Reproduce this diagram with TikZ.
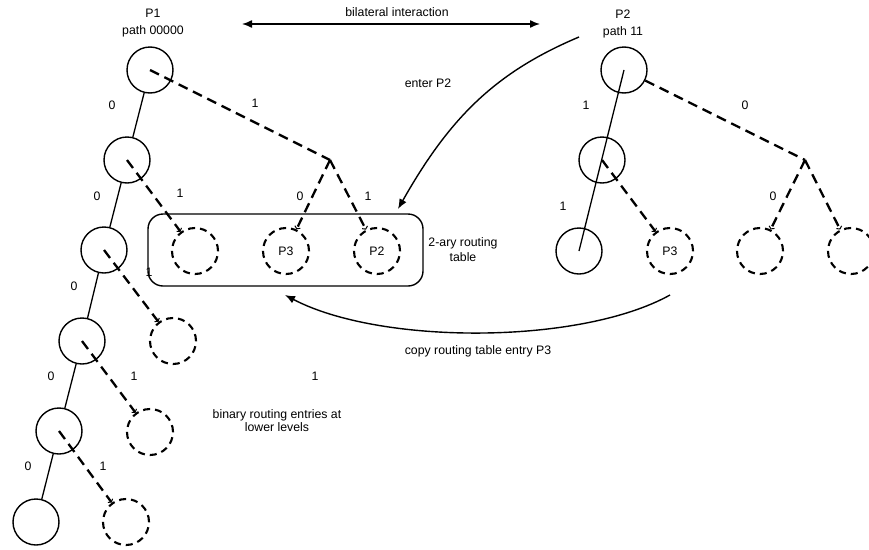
\documentclass[tikz,border=0pt]{standalone}
\usepackage{fontspec}
\setmainfont{Liberation Sans}
\usetikzlibrary{arrows.meta}
\begin{document}
\begin{tikzpicture}[x=1pt,y=-1pt,
  every node/.style={font=\fontsize{12.3}{14}\selectfont, inner sep=0pt},
  solidnode/.style={circle, draw, line width=1.4pt, minimum size=46pt},
  dashnode/.style={circle, draw, line width=2.1pt, dash pattern=on 7pt off 5pt, minimum size=46pt},
  treeline/.style={line width=1.3pt},
  link/.style={line width=2.3pt, dash pattern=on 10pt off 6pt},
  linkend/.style={link, -{Straight Barb[length=2pt,width=6pt,line width=1pt]}},
  arrowline/.style={line width=1.4pt, -{Latex[length=10pt,width=8pt]}},
  tablebox/.style={draw, line width=1.4pt, rounded corners=15pt},
  twoline/.style={align=center, font=\fontsize{12.3}{17}\selectfont}
]
\clip (0,0) rectangle (869,549);

% ---- left tree (P1)
\node[solidnode] (n1) at (150,70) {};
\node[solidnode] (n2) at (127,160) {};
\node[solidnode] (n3) at (104,250) {};
\node[solidnode] (n4) at (82,341) {};
\node[solidnode] (n5) at (59,431) {};
\node[solidnode] (n6) at (36,522) {};

\node[dashnode] (d1) at (195,251) {};
\node[dashnode] (p3b) at (286,251) {P3};
\node[dashnode] (p2b) at (377,251) {P2};
\node[dashnode] (d3) at (173,341) {};
\node[dashnode] (d4) at (150,432) {};
\node[dashnode] (d5) at (126,522) {};

\coordinate (b1) at (330,160);

\draw[treeline] (n1) -- (n2);
\draw[treeline] (n2) -- (n3);
\draw[treeline] (n3) -- (n4);
\draw[treeline] (n4) -- (n5);
\draw[treeline] (n5) -- (n6);

\draw[link] (n1.center) -- (b1);
\draw[linkend] (b1) -- (p3b);
\draw[linkend] (b1) -- (p2b);
\draw[linkend] (n2.center) -- (d1);
\draw[linkend] (n3.center) -- (d3);
\draw[linkend] (n4.center) -- (d4);
\draw[linkend] (n5.center) -- (d5);

% labels left tree
\node (l01) at (112,105) {0};
\node (l11) at (255,103) {1};
\node (l02) at (97,196) {0};
\node (l12) at (180,193) {1};
\node (l0b) at (300,196) {0};
\node (l1b) at (368,196) {1};
\node (l03) at (74,286) {0};
\node (l13) at (149,272) {1};
\node (l04) at (51,376) {0};
\node (l14) at (134,376) {1};
\node (l05) at (28,466) {0};
\node (l15) at (103,466) {1};
\node (lfree) at (315,376) {1};

% routing table box
\node[tablebox, minimum width=275pt, minimum height=72pt] (box) at (285.5,250) {};
\node[align=center, font=\fontsize{12.3}{15}\selectfont] (boxlbl) at (463,250) {2-ary routing\\table};

\node[twoline] (p1lbl) at (153,23.5) {P1\\path 00000};
\node[align=center, font=\fontsize{12.3}{13}\selectfont] (lower) at (277,421) {binary routing entries at\\lower levels};

% ---- right tree (P2)
\node[solidnode] (m1) at (624,70) {};
\node[solidnode] (m2) at (602,160) {};
\node[solidnode] (m3) at (579,251) {};
\node[dashnode] (p3r) at (670,251) {P3};
\node[dashnode] (r3) at (760,251) {};
\node[dashnode] (r4) at (851,251) {};
\coordinate (b2) at (805,160);

\draw[treeline] (m1.center) -- (m3.center);
\draw[link] (m1) -- (b2);
\draw[linkend] (b2) -- (r3);
\draw[linkend] (b2) -- (r4);
\draw[linkend] (m2.center) -- (p3r);

\node (r11) at (586,105) {1};
\node (r01) at (745,105) {0};
\node (r12) at (563,206) {1};
\node (r02) at (773,196) {0};

\node[twoline] (p2lbl) at (623,23.5) {P2\\path 11};

% ---- interactions
\coordinate (biL) at (242,24);
\coordinate (biR) at (540,24);
\draw[line width=1.4pt, {Latex[length=10pt,width=8pt]}-{Latex[length=10pt,width=8pt]}] (biL) -- (biR);
\node (bilbl) at (397,12) {bilateral interaction};

\coordinate (enS) at (579,37);
\coordinate (enE) at (398,209);
\draw[arrowline] (enS) .. controls (496,72) and (450,117) .. (enE);
\node (enlbl) at (428,83) {enter P2};

\coordinate (cpS) at (670,295);
\coordinate (cpE) at (285,295);
\draw[arrowline] (cpS) .. controls (580,345) and (380,345) .. (cpE);
\node (cplbl) at (478,351) {copy routing table entry P3};
\end{tikzpicture}
\end{document}
